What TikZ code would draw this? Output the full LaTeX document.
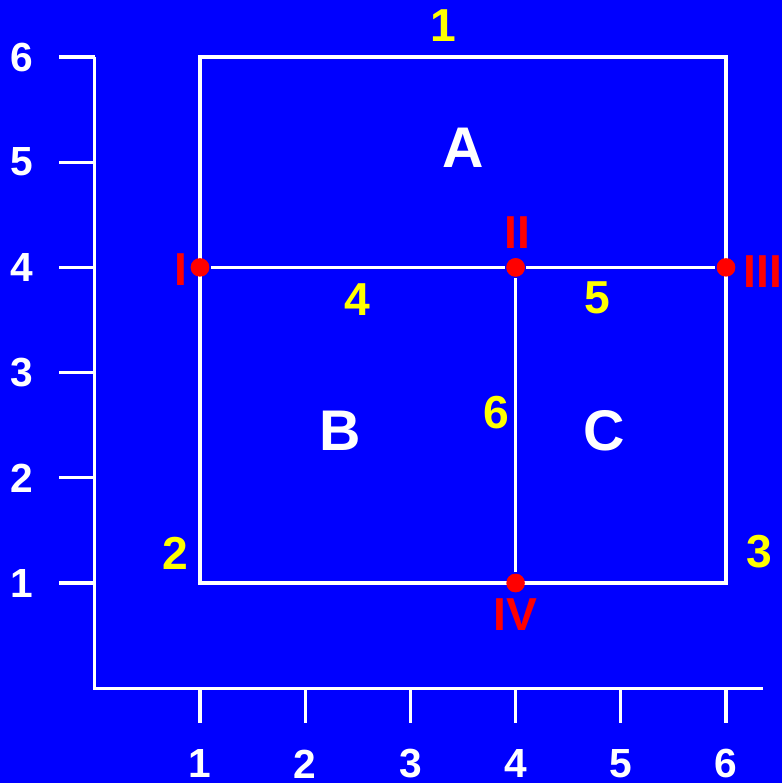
\documentclass[tikz,border=0pt]{standalone}
\usepackage{fontspec}
\setmainfont{Liberation Sans}
\definecolor{bgblue}{RGB}{0,0,255}
\definecolor{ptred}{RGB}{255,0,0}
\definecolor{segyellow}{RGB}{255,255,0}
\begin{document}
\begin{tikzpicture}[scale=1.0,
  line width=0.85pt,
  ticklab/.style={text=white,font=\fontsize{11}{13}\selectfont\bfseries},
  region/.style={text=white,font=\fontsize{15.5}{18}\selectfont\bfseries},
  seglab/.style={text=segyellow,font=\fontsize{12.5}{15}\selectfont\bfseries},
  ptlab/.style={text=ptred,font=\fontsize{12.5}{15}\selectfont\bfseries},
  pt/.style={circle,fill=ptred,inner sep=0pt,minimum size=5pt}]
\fill[bgblue] (-0.901,-0.901) rectangle (6.532,6.542);
\useasboundingbox (-0.901,-0.901) rectangle (6.532,6.542);
% axes
\draw[white] (0,6) -- (0,0) -- (6.35,0);
\foreach \k in {1,...,6} {
  \draw[white] (0,\k) -- (-0.34,\k);
  \draw[white] (\k,0) -- (\k,-0.33);
  \node[ticklab] (ylab\k) at (-0.69,\k) {\k};
  \node[ticklab] (xlab\k) at (\k,-0.72) {\k};
}
% corners
\coordinate (sw) at (1,1);
\coordinate (ne) at (6,6);
\node[pt] (p1) at (1,4) {};
\node[pt] (p2) at (4,4) {};
\node[pt] (p3) at (6,4) {};
\node[pt] (p4) at (4,1) {};
% outline and cuts
\draw[white] (sw) rectangle (ne);
\draw[white] (p1) -- (p2) -- (p3);
\draw[white] (p2) -- (p4);
\node[pt] at (p1) {};
\node[pt] at (p2) {};
\node[pt] at (p3) {};
\node[pt] at (p4) {};
% point labels
\node[ptlab] (l1) at (0.82,3.975) {I};
\node[ptlab] (l2) at (4.02,4.33) {II};
\node[ptlab] (l3) at (6.35,3.96) {III};
\node[ptlab] (l4) at (4.0,0.70) {IV};
% segment labels
\node[seglab] (s1) at (3.31,6.30) {1};
\node[seglab] (s2) at (0.77,1.28) {2};
\node[seglab] (s3) at (6.32,1.30) {3};
\node[seglab] (s4) at (2.50,3.69) {4};
\node[seglab] (s5) at (4.78,3.71) {5};
\node[seglab] (s6) at (3.82,2.62) {6};
% regions
\node[region] (ra) at (3.50,5.135) {A};
\node[region] (rb) at (2.33,2.45) {B};
\node[region] (rc) at (4.84,2.45) {C};
\end{tikzpicture}
\end{document}
